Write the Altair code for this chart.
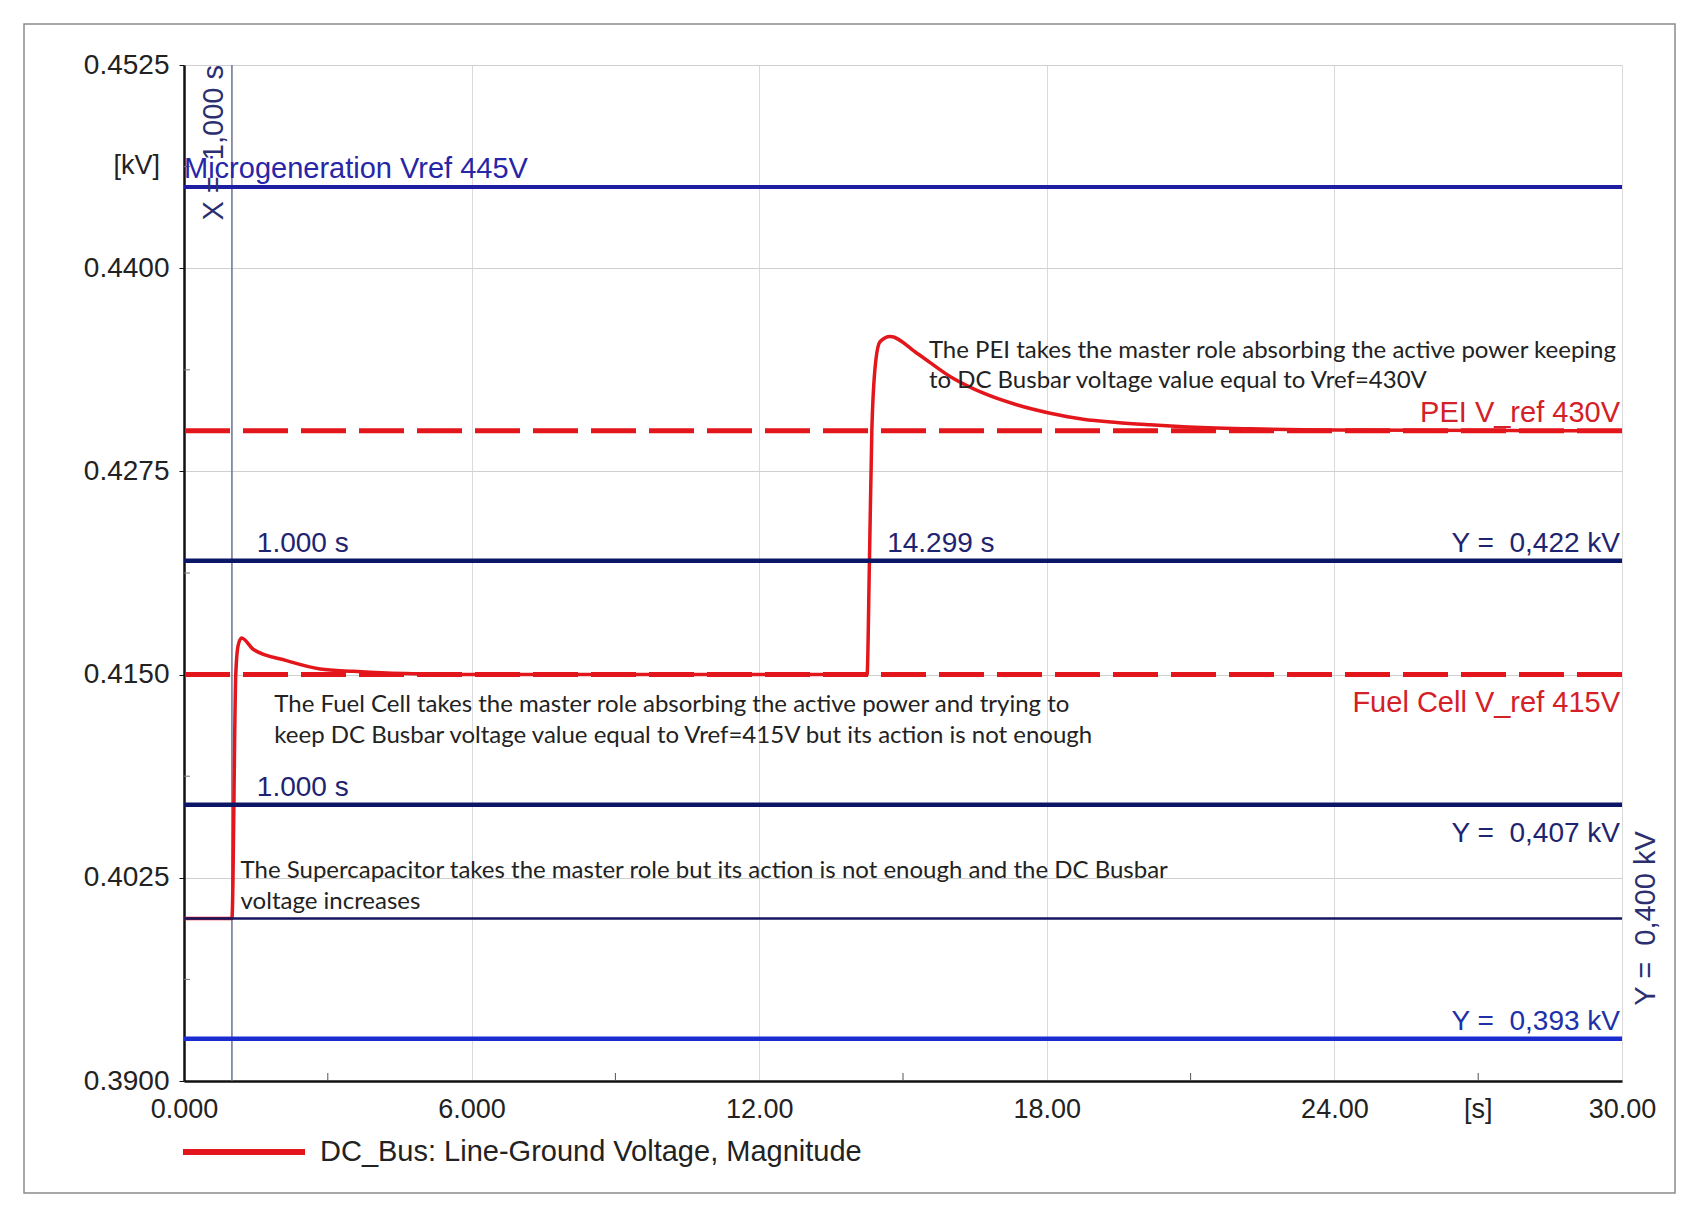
import altair as alt
import pandas as pd

# ---------------- data ----------------
time_s = [0.0, 1.0, 1.08, 1.13, 1.2, 1.45, 2.14, 2.84, 3.53, 4.23, 4.93, 6.0,
          14.25, 14.30, 14.35, 14.43, 14.52, 14.73, 15.29, 15.98, 16.68, 17.37,
          18.07, 18.76, 19.46, 20.15, 20.85, 22.24, 24.0, 30.0]
dc_bus_kv = [0.4, 0.4, 0.415, 0.4168, 0.41725, 0.41654, 0.41586, 0.41535, 0.4152,
             0.4151, 0.41505, 0.415,
             0.415, 0.422, 0.430, 0.43425, 0.43548, 0.4358, 0.43477, 0.43334,
             0.43231, 0.4316, 0.43108, 0.43071, 0.43051, 0.43037, 0.43025,
             0.43012, 0.43004, 0.4300]
series_name = "DC_Bus: Line-Ground Voltage, Magnitude"

ref_dashed_kv = [0.430, 0.415]            # PEI / Fuel Cell V_ref
micro_kv = [0.445]                        # Microgeneration Vref
cursor_kv = [0.422, 0.407]                # Y cursors (thick navy)
base_kv = [0.400]                         # Y = 0,400 kV
low_kv = [0.3926]                         # Y = 0,393 kV
cursor_time = [1.0]                       # X = 1,000 s

x_ticks = [0, 6, 12, 18, 24, 30]
y_ticks = [0.39, 0.4025, 0.415, 0.4275, 0.44, 0.4525]
x_minor = [3, 9, 15, 21, 27]
y_minor = [0.39625, 0.40875, 0.42125, 0.43375, 0.44625]

curve = pd.DataFrame({"t": time_s, "v": dc_bus_kv, "series": series_name})
dummy = pd.DataFrame({"_": [0]})

W, H = 1438, 1016
XS = alt.Scale(domain=[0, 30], nice=False, zero=False)
YS = alt.Scale(domain=[0.39, 0.4525], nice=False, zero=False)

RED = "#e3161c"
ARIAL = "Liberation Sans"
HUMAN = "Lato"
NB = "\u00a0"

x_axis = alt.Axis(values=x_ticks, title=None, grid=True, gridColor="#dadada", gridWidth=1,
                  ticks=False, domainColor="#111", domainWidth=2.5,
                  labelFont=ARIAL, labelFontSize=27, labelColor="#222", labelPadding=15,
                  labelFlush=False, labelOverlap=False,
                  labelExpr="datum.value == 0 ? '0.000' : datum.value == 6 ? '6.000' : format(datum.value, '.2f')")
y_axis = alt.Axis(values=y_ticks, format=".4f", title=None, grid=True, gridColor="#cfcfcf",
                  gridWidth=1, tickSize=5, tickColor="#111", domainColor="#111", domainWidth=2.5,
                  labelFont=ARIAL, labelFontSize=28, labelColor="#222", labelPadding=10,
                  labelFlush=False, labelOverlap=False)

# outer frame of the figure
frame = alt.Chart(dummy).mark_rect(fill=None, stroke="#8a8a8a", strokeWidth=1.5).encode(
    x=alt.value(-160), x2=alt.value(1491), y=alt.value(-41), y2=alt.value(1128))

# minor ticks
minor_x = alt.Chart(pd.DataFrame({"t": x_minor})).mark_rule(color="#555", strokeWidth=1).encode(
    x=alt.X("t:Q", scale=XS, axis=x_axis), y=alt.value(H), y2=alt.value(H - 8))
minor_y = alt.Chart(pd.DataFrame({"v": y_minor})).mark_rule(color="#777", strokeWidth=1).encode(
    y=alt.Y("v:Q", scale=YS, axis=y_axis), x=alt.value(0), x2=alt.value(6))

# vertical cursor at 1 s
vcursor = alt.Chart(pd.DataFrame({"t": cursor_time})).mark_rule(color="#6a6f95", strokeWidth=1.5).encode(
    x=alt.X("t:Q", scale=XS))

dashed = alt.Chart(pd.DataFrame({"v": ref_dashed_kv})).mark_rule(
    color=RED, strokeWidth=5, strokeDash=[45, 13]).encode(y=alt.Y("v:Q", scale=YS))

line = alt.Chart(curve).mark_line(strokeWidth=3.5, strokeJoin="round", interpolate="monotone").encode(
    x=alt.X("t:Q", scale=XS, axis=x_axis),
    y=alt.Y("v:Q", scale=YS, axis=y_axis),
    color=alt.Color("series:N", scale=alt.Scale(range=[RED]),
                    legend=alt.Legend(orient="none", legendX=-4, legendY=1023, title=None,
                                      symbolType="stroke", symbolSize=14884, symbolStrokeWidth=6,
                                      labelFont=ARIAL, labelFontSize=29, labelColor="#222",
                                      labelLimit=900, labelOffset=12, padding=0)))

micro = alt.Chart(pd.DataFrame({"v": micro_kv})).mark_rule(color="#1e1ea2", strokeWidth=4).encode(
    y=alt.Y("v:Q", scale=YS))
cursors = alt.Chart(pd.DataFrame({"v": cursor_kv})).mark_rule(color="#0c1666", strokeWidth=4.5).encode(
    y=alt.Y("v:Q", scale=YS))
base = alt.Chart(pd.DataFrame({"v": base_kv})).mark_rule(color="#14165e", strokeWidth=2.5).encode(
    y=alt.Y("v:Q", scale=YS))
low = alt.Chart(pd.DataFrame({"v": low_kv})).mark_rule(color="#1a2bd0", strokeWidth=4.5).encode(
    y=alt.Y("v:Q", scale=YS))


def txt(text, x, y, color="#1f2470", size=28, font=ARIAL, align="left", baseline="alphabetic",
        dx=0, dy=0, angle=0, lineHeight=None):
    kw = dict(align=align, baseline=baseline, dx=dx, dy=dy, color=color, fontSize=size, font=font)
    if angle:
        kw["angle"] = angle
    if lineHeight:
        kw["lineHeight"] = lineHeight
    return alt.Chart(dummy).mark_text(**kw).encode(
        x=alt.X(datum=x), y=alt.Y(datum=y), text=alt.value(text))


texts = [
    txt("Microgeneration Vref 445V", 0, 0.445, color="#2626a6", size=29, dy=-9),
    txt("[kV]", 0, 0.4463, color="#222", size=27, align="right", baseline="middle", dx=-24),
    txt("X =" + NB + NB + "1,000 s", 1.0, 0.4525, color="#2b2f70", size=29, align="right",
        baseline="bottom", dy=-3, angle=270),
    txt("1.000 s", 1.52, 0.422, dy=-9),
    txt("14.299 s", 14.67, 0.422, dy=-9),
    txt("Y =" + NB + NB + "0,422 kV", 30, 0.422, align="right", dx=-2, dy=-9),
    txt("PEI V_ref 430V", 30, 0.430, color="#d42027", size=29, align="right", dx=-2, dy=-9),
    txt("Fuel Cell V_ref 415V", 30, 0.415, color="#d42027", size=29, align="right", dx=-2, dy=37),
    txt("1.000 s", 1.52, 0.407, dy=-9),
    txt("Y =" + NB + NB + "0,407 kV", 30, 0.407, align="right", dx=-2, dy=37),
    txt("Y =" + NB + NB + "0,393 kV", 30, 0.3926, color="#2030a8", align="right", dx=-2, dy=-9),
    txt("Y =" + NB + NB + "0,400 kV", 30, 0.400, color="#2b2f70", size=29, align="center",
        baseline="top", dy=10, angle=270),
    txt("[s]", 27, 0.39, color="#222", size=27, align="center", baseline="middle", dy=29),
    txt(["The PEI takes the master role absorbing the active power keeping",
         "to DC Busbar voltage value equal to Vref=430V"], 15.54, 0.43448,
        color="#222", size=24, font=HUMAN, lineHeight=30),
    txt(["The Fuel Cell takes the master role absorbing the active power and trying to",
         "keep DC Busbar voltage value equal to Vref=415V but its action is not enough"],
        1.884, 0.41272, color="#222", size=24, font=HUMAN, lineHeight=31),
    txt(["The Supercapacitor takes the master role but its action is not enough and the DC Busbar",
         "voltage increases"], 1.18, 0.40246, color="#222", size=24, font=HUMAN, lineHeight=31),
]

chart = alt.layer(frame, minor_x, minor_y, vcursor, dashed, line, micro, cursors, base, low,
                  *texts).properties(
    width=W, height=H,
    padding={"left": 176, "top": 57, "right": 60, "bottom": 120},
    autosize=alt.AutoSizeParams(type="none"),
    background="white",
).configure_view(stroke=None)

chart.save("out.html", embed_options={"renderer": "svg", "actions": False})
